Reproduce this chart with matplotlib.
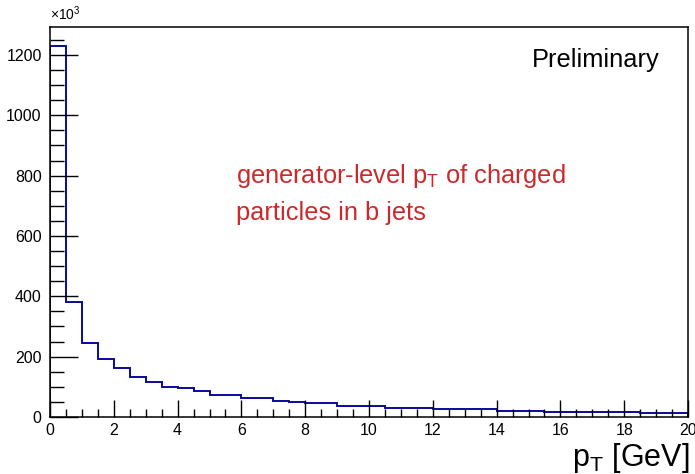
import matplotlib
matplotlib.use("Agg")
import matplotlib.pyplot as plt
from matplotlib.ticker import MultipleLocator

# bin edges in GeV and counts in units of 10^3
edges = [0, 0.5, 1, 1.5, 2, 2.5, 3, 3.5, 4, 4.5, 5, 6, 7, 7.5, 8, 9,
         10.5, 12, 14, 15.5, 18.5, 20]
counts = [1231, 380, 245, 192, 161, 132, 117, 101, 97, 87, 73, 62,
          54, 49, 46, 37, 31, 26, 21, 17, 12]

plt.rcParams['font.family'] = ['Liberation Sans', 'DejaVu Sans']
plt.rcParams['mathtext.default'] = 'regular'

fig = plt.figure(figsize=(6.95, 4.74), dpi=100)
ax = fig.add_axes([50 / 695, 57 / 474, 638 / 695, 390 / 474])

ax.stairs(counts, edges, color='#0a0a9e', linewidth=1.4, baseline=0)

ax.set_xlim(0, 20)
ax.set_ylim(0, max(counts) * 1.05)

# ROOT-like ticks: inside, left and bottom only
ax.xaxis.set_major_locator(MultipleLocator(2))
ax.xaxis.set_minor_locator(MultipleLocator(0.5))
ax.yaxis.set_major_locator(MultipleLocator(200))
ax.yaxis.set_minor_locator(MultipleLocator(50))
ax.tick_params(axis='y', which='major', direction='in', length=20, width=1,
               labelsize=11.5, pad=6)
ax.tick_params(axis='y', which='minor', direction='in', length=10, width=1)
ax.tick_params(axis='x', which='major', direction='in', length=12, width=1,
               labelsize=11.5, pad=4)
ax.tick_params(axis='x', which='minor', direction='in', length=6, width=1)
for s in ax.spines.values():
    s.set_linewidth(1.1)

fig.text(50 / 695, 1 - 20 / 474, r'$\times10^{3}$', fontsize=10,
         ha='left', va='baseline')

ax.text(0.956, 0.915, 'Preliminary', transform=ax.transAxes, fontsize=18.3,
        ha='right', va='center')
ax.text(0.291, 0.618, r'generator-level $p_{T}$ of charged', transform=ax.transAxes,
        fontsize=18.3, color='#cc2a2a', ha='left', va='center')
ax.text(0.291, 0.523, 'particles in b jets', transform=ax.transAxes,
        fontsize=18.3, color='#cc2a2a', ha='left', va='center')

fig.text(690 / 695, 1 - 458 / 474, r'$p_{T}$ [GeV]', fontsize=22,
         ha='right', va='center')

fig.savefig('out.png', dpi=100)
